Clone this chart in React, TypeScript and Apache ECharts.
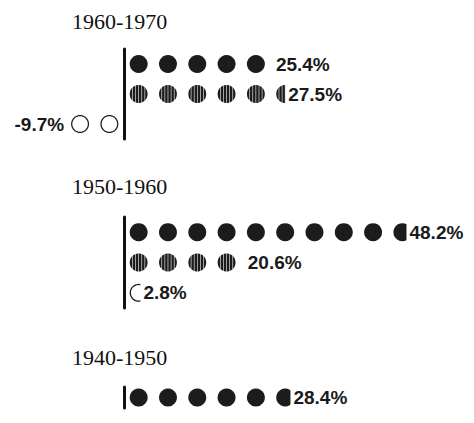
import React, { useEffect, useRef } from 'react';
import * as echarts from 'echarts';

// ---- data ----
const periods = ['1960-1970', '1950-1960', '1940-1950'];
const solidValues: (number | null)[] = [25.4, 48.2, 28.4];
const hatchedValues: (number | null)[] = [27.5, 20.6, null];
const openValues: (number | null)[] = [-9.7, 2.8, null];
const positiveBound = 50; // 10 circles of 5%
const negativeBound = -10; // 2 circles of 5%

// ---- layout ----
const AXIS_MIN = -12;
const AXIS_MAX = 56;
const GRID_LEFT = 53.7;
const GRID_WIDTH = 398.5;
const groupLayout = [
  { titleY: 21, top: 49, height: 90 },
  { titleY: 186, top: 217, height: 91 },
  { titleY: 357, top: 387, height: 21 },
];

function stripedCirclePath(): string {
  const r = 10;
  const n = 6;
  const gap = 0.65;
  const w = (2 * r - (n - 1) * gap) / n;
  let d = '';
  for (let i = 0; i < n; i++) {
    const x0 = i * (w + gap);
    const x1 = x0 + w;
    const steps = 5;
    const top: string[] = [];
    const bottom: string[] = [];
    for (let s = 0; s <= steps; s++) {
      const x = x0 + ((x1 - x0) * s) / steps;
      const h = Math.sqrt(Math.max(0, r * r - (x - r) * (x - r)));
      top.push(`${x.toFixed(2)} ${(r - h).toFixed(2)}`);
      bottom.unshift(`${x.toFixed(2)} ${(r + h).toFixed(2)}`);
    }
    d += 'M' + top.join(' L') + ' L' + bottom.join(' L') + ' Z ';
  }
  return 'path://' + d;
}

function ringPath(): string {
  const r = 10;
  const ri = 8.6;
  const n = 48;
  const outer: string[] = [];
  const inner: string[] = [];
  for (let i = 0; i < n; i++) {
    const a = (i / n) * Math.PI * 2;
    outer.push(`${(r + r * Math.cos(a)).toFixed(2)} ${(r + r * Math.sin(a)).toFixed(2)}`);
    const b = -a;
    inner.push(`${(r + ri * Math.cos(b)).toFixed(2)} ${(r + ri * Math.sin(b)).toFixed(2)}`);
  }
  return 'path://M' + outer.join(' L') + ' Z M' + inner.join(' L') + ' Z';
}

const STRIPED = stripedCirclePath();
const RING = ringPath();

type Kind = 'solid' | 'hatched' | 'open';

const symbolOf: Record<Kind, string> = {
  solid: 'circle',
  hatched: STRIPED,
  open: RING,
};

function itemFor(kind: Kind, value: number) {
  return {
    value,
    symbol: symbolOf[kind],
    symbolBoundingData: value < 0 ? negativeBound : positiveBound,
  };
}

export default function App() {
  const ref = useRef<HTMLDivElement>(null);
  useEffect(() => {
    if (!ref.current) return;
    const chart = echarts.init(ref.current, undefined, { renderer: 'svg' });

    const grid: any[] = [];
    const xAxis: any[] = [];
    const yAxis: any[] = [];
    const series: any[] = [];
    const graphic: any[] = [];

    periods.forEach((period, g) => {
      const rows: { kind: Kind; value: number }[] = [];
      if (solidValues[g] != null) rows.push({ kind: 'solid', value: solidValues[g] as number });
      if (hatchedValues[g] != null) rows.push({ kind: 'hatched', value: hatchedValues[g] as number });
      if (openValues[g] != null) rows.push({ kind: 'open', value: openValues[g] as number });
      const lay = groupLayout[g];
      grid.push({ left: GRID_LEFT, width: GRID_WIDTH, top: lay.top, height: lay.height });
      xAxis.push({ type: 'value', gridIndex: g, min: AXIS_MIN, max: AXIS_MAX, show: false });
      yAxis.push({
        type: 'category',
        gridIndex: g,
        inverse: true,
        data: rows.map((r, i) => `${period}-${r.kind}-${i}`),
        axisLine: { show: true, onZero: true, lineStyle: { color: '#111', width: 3 } },
        axisTick: { show: false },
        axisLabel: { show: false },
        splitLine: { show: false },
      });
      series.push({
        type: 'pictorialBar',
        name: period,
        xAxisIndex: g,
        yAxisIndex: g,
        symbolRepeat: true,
        symbolClip: true,
        symbolSize: 18,
        symbolMargin: '6!',
        itemStyle: { color: '#1c1c1c' },
        z: 3,
        data: rows.map((r) => itemFor(r.kind, r.value)),
      });
      // invisible bars carrying the value labels at the value end
      series.push({
        type: 'bar',
        name: period + ' labels',
        xAxisIndex: g,
        yAxisIndex: g,
        barWidth: 18,
        itemStyle: { color: 'rgba(0,0,0,0)' },
        z: 2,
        silent: true,
        label: {
          show: true,
          distance: 3,
          fontFamily: 'Liberation Sans',
          fontWeight: 'bold',
          fontSize: 19,
          color: '#1a1a1a',
          formatter: (p: any) => `${Number(p.value).toFixed(1)}%`,
        },
        data: rows.map((r) => ({
          value: r.value,
          label: { position: r.value < 0 ? 'left' : 'right' },
        })),
      });
      graphic.push({
        type: 'text',
        x: 72,
        y: lay.titleY,
        style: {
          text: period,
          fontFamily: 'Liberation Serif',
          fontSize: 22,
          fill: '#111',
          verticalAlign: 'middle',
          align: 'left',
        },
      });
    });

    chart.setOption({
      animation: false,
      backgroundColor: '#ffffff',
      grid,
      xAxis,
      yAxis,
      series,
      graphic,
    });
    return () => chart.dispose();
  }, []);
  return (
    <div
      ref={ref}
      style={{ position: 'absolute', left: 0, top: 0, width: 474, height: 423 }}
    />
  );
}
